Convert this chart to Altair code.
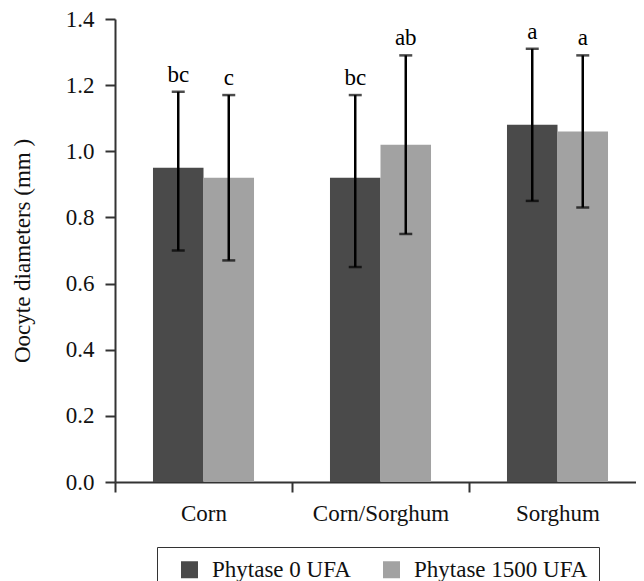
import altair as alt
import pandas as pd

diets = ["Corn", "Corn/Sorghum", "Sorghum"]
series = ["Phytase 0 UFA", "Phytase 1500 UFA"]
means_0 = [0.95, 0.92, 1.08]
means_1500 = [0.92, 1.02, 1.06]
low_0 = [0.70, 0.65, 0.85]
high_0 = [1.18, 1.17, 1.31]
low_1500 = [0.67, 0.75, 0.83]
high_1500 = [1.17, 1.29, 1.29]
letters_0 = ["bc", "bc", "a"]
letters_1500 = ["c", "ab", "a"]
y_ticks = [0.0, 0.2, 0.4, 0.6, 0.8, 1.0, 1.2, 1.4]
colors = ["#4a4a4a", "#a2a2a2"]

rows = []
for i, d in enumerate(diets):
    rows.append(dict(diet=d, series=series[0], mean=means_0[i], low=low_0[i],
                     high=high_0[i], letter=letters_0[i]))
    rows.append(dict(diet=d, series=series[1], mean=means_1500[i], low=low_1500[i],
                     high=high_1500[i], letter=letters_1500[i]))
df = pd.DataFrame(rows)

FONT = "Liberation Serif"
AX = "#333333"

x = alt.X("diet:N", sort=diets,
          scale=alt.Scale(paddingInner=0, paddingOuter=0),
          axis=alt.Axis(title=None, labelAngle=0, tickBand="extent", tickSize=10,
                        labelPadding=10, labelFontSize=23, labelFont=FONT, labelColor="#111",
                        domainColor=AX, tickColor=AX, domainWidth=2, tickWidth=2,
                        grid=False))
xo = alt.XOffset("series:N", sort=series,
                 scale=alt.Scale(domain=series, paddingInner=0, paddingOuter=0.752))
y_scale = alt.Scale(domain=[0, 1.4], nice=False)

base = alt.Chart(df)

bars = base.mark_bar().encode(
    x=x, xOffset=xo,
    y=alt.Y("mean:Q", scale=y_scale,
            axis=alt.Axis(title="Oocyte diameters (mm )", values=y_ticks, format=".1f",
                          tickSize=10, labelPadding=11, labelFontSize=23, labelFont=FONT,
                          labelColor="#111", domainColor=AX, tickColor=AX,
                          domainWidth=2, tickWidth=2, grid=False,
                          titleFont=FONT, titleFontSize=23, titleFontWeight="normal",
                          titleColor="#111",
                          titleAngle=270, titleX=-86, titleY=231.5,
                          titleAlign="center", titleBaseline="alphabetic")),
    color=alt.Color("series:N", sort=series,
                    scale=alt.Scale(domain=series, range=colors),
                    legend=alt.Legend(title=None, orient="none", legendX=42, legendY=528,
                                      direction="horizontal", symbolType="square",
                                      symbolSize=289, symbolStrokeWidth=0,
                                      labelFont=FONT,
                                      labelFontSize=23, labelColor="#111", labelLimit=400,
                                      labelOffset=11, columnPadding=19, padding=11,
                                      symbolOffset=10, strokeColor=AX)),
)

rules = base.mark_rule(color="black", strokeWidth=2.5).encode(
    x=x, xOffset=xo, y=alt.Y("low:Q", scale=y_scale), y2="high:Q")
caps_hi = base.mark_tick(color="black", size=13, thickness=2.5).encode(
    x=x, xOffset=xo, y=alt.Y("high:Q", scale=y_scale))
caps_lo = base.mark_tick(color="black", size=13, thickness=2.5).encode(
    x=x, xOffset=xo, y=alt.Y("low:Q", scale=y_scale))
labels = base.mark_text(baseline="alphabetic", dy=-10, fontSize=23, font=FONT,
                        color="black").encode(
    x=x, xOffset=xo, y=alt.Y("high:Q", scale=y_scale), text="letter:N")

chart = alt.layer(bars, rules, caps_hi, caps_lo, labels).properties(
    width=531, height=463,
    autosize=alt.AutoSizeParams(type="none"),
    padding={"left": 107, "top": 11, "right": -10, "bottom": 99},
).configure(font=FONT).configure_view(stroke=None)

chart.save("out.html", embed_options={"renderer": "svg", "actions": False})
